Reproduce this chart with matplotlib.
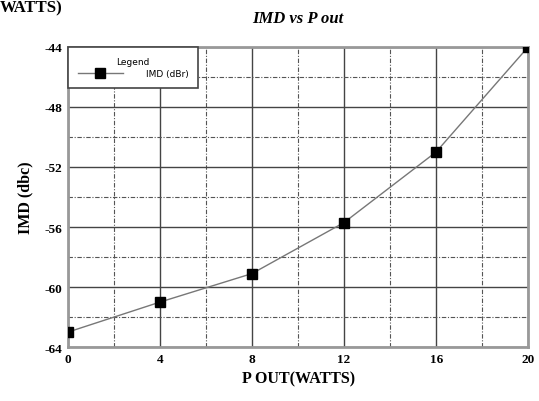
import matplotlib
matplotlib.use("Agg")
import matplotlib.pyplot as plt
from matplotlib.ticker import MultipleLocator

plt.rcParams["axes.unicode_minus"] = False

# data
p_out = [0, 4, 8, 12, 16, 20]
imd = [-63.0, -61.0, -59.1, -55.7, -51.0, -44.0]

x_ticks = [0, 4, 8, 12, 16, 20]
y_ticks = [-64, -60, -56, -52, -48, -44]

serif = "Liberation Serif"

fig = plt.figure(figsize=(5.39, 4.02), dpi=100)
ax = fig.add_axes([0.126, 0.134, 0.854, 0.747])

ax.plot(p_out, imd, color="#777777", lw=1.0, marker="s", ms=7,
        mfc="black", mec="black", label="IMD (dBr)", zorder=3)

ax.set_xlim(0, 20)
ax.set_ylim(-64, -44)
ax.set_xticks(x_ticks)
ax.set_yticks(y_ticks)
ax.xaxis.set_minor_locator(MultipleLocator(2))
ax.yaxis.set_minor_locator(MultipleLocator(2))
ax.grid(which="major", color="#444444", lw=1.0, ls="-")
ax.grid(which="minor", color="#555555", lw=0.8, ls=(0, (4, 1.5, 1, 1.5)))
ax.tick_params(which="both", length=0, pad=4)
for lab in ax.get_xticklabels() + ax.get_yticklabels():
    lab.set_fontfamily(serif)
    lab.set_fontweight("bold")
    lab.set_fontsize(9.5)
for s in ax.spines.values():
    s.set_color("#999999")
    s.set_linewidth(2)

ax.set_title("IMD vs P out", fontfamily=serif, fontweight="bold",
             fontstyle="italic", fontsize=12, pad=18)
ax.set_xlabel("P OUT(WATTS)", fontfamily=serif, fontweight="bold",
              fontsize=11.5, labelpad=4)
ax.set_ylabel("IMD (dbc)", fontfamily=serif, fontweight="bold",
              fontsize=11.5, labelpad=8)

leg = ax.legend(loc="upper left", bbox_to_anchor=(0, 1), title="Legend",
                fontsize=6.5, title_fontsize=6.5, frameon=True, fancybox=False,
                borderaxespad=0, handlelength=5, handletextpad=2.5,
                borderpad=1.1, labelspacing=0.4)
leg.get_frame().set_edgecolor("#444444")
leg.get_frame().set_linewidth(1.2)
leg.get_frame().set_alpha(1)

# caption fragment at the very top left
fig.text(0.0, 1.0, "WATTS)", fontfamily=serif, fontweight="bold",
         fontsize=12, va="top", ha="left")

fig.savefig("out.png", dpi=100)
